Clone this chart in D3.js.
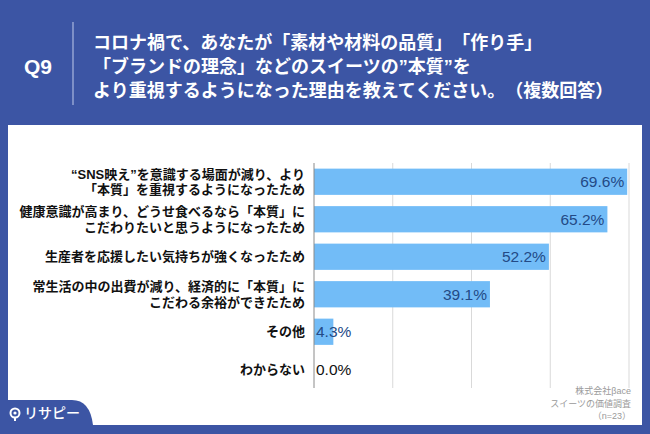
<!DOCTYPE html>
<html><head><meta charset="utf-8">
<script src="https://cdn.jsdelivr.net/npm/d3@7"></script>
<style>html,body{margin:0;padding:0;background:#3b55a5;}svg{display:block;}svg text{text-spacing-trim:space-all;}</style>
</head><body>
<svg id="c" width="650" height="434"></svg>
<script>
const categories = [
  ["“SNS映え”を意識する場面が減り、より", "「本質」を重視するようになったため"],
  ["健康意識が高まり、どうせ食べるなら「本質」に", "こだわりたいと思うようになったため"],
  ["生産者を応援したい気持ちが強くなったため"],
  ["常生活の中の出費が減り、経済的に「本質」に", "こだわる余裕ができたため"],
  ["その他"],
  ["わからない"]
];
const values = [69.6, 65.2, 52.2, 39.1, 4.3, 0.0];
const gridTicks = [17.5, 35, 52.5, 70];
const titleLines = [
  "コロナ禍で、あなたが「素材や材料の品質」「作り手」",
  "「ブランドの理念」などのスイーツの”本質”を",
  "より重視するようになった理由を教えてください。（複数回答）"
];
const sourceLines = ["株式会社βace", "スイーツの価値調査", "（n=23）"];

const JP = "'Liberation Sans','Noto Sans CJK JP',sans-serif";
const LAT = "'Liberation Sans','DejaVu Sans',sans-serif";
const svg = d3.select("#c");
const BLUE = "#3c55a4";

svg.append("rect").attr("width",650).attr("height",434).attr("fill",BLUE);
svg.append("rect").attr("x",8).attr("y",125).attr("width",634).attr("height",300).attr("fill","#fff");

// header
svg.append("text").attr("x",38).attr("y",74).attr("text-anchor","middle")
  .attr("fill","#fff").attr("font-family",LAT).attr("font-weight","bold").attr("font-size",21).text("Q9");
svg.append("line").attr("x1",73).attr("x2",73).attr("y1",22).attr("y2",105)
  .attr("stroke","#aab8e0").attr("stroke-width",1.2);
svg.append("g").selectAll("text").data(titleLines).join("text")
  .attr("x",93).attr("y",(d,i)=>48.5+i*24)
  .attr("fill","#fff").attr("font-family",JP).attr("font-weight","bold").attr("font-size",18)
  .text(d=>d);

// chart
const x = d3.scaleLinear().domain([0,70]).range([314,629]);
const y = d3.scaleBand().domain(d3.range(values.length)).range([163,388]).paddingInner(0.3).paddingOuter(0.15);

svg.append("g").selectAll("line").data(gridTicks).join("line")
  .attr("x1",d=>x(d)).attr("x2",d=>x(d)).attr("y1",163).attr("y2",388)
  .attr("stroke","#d9d9d9").attr("stroke-width",1);

svg.append("g").selectAll("rect").data(values).join("rect")
  .attr("x",x(0)).attr("y",(d,i)=>y(i)).attr("width",d=>x(d)-x(0)).attr("height",y.bandwidth())
  .attr("fill","#72bcf7");

svg.append("line").attr("x1",x(0)).attr("x2",x(0)).attr("y1",163).attr("y2",388)
  .attr("stroke","#8a8a8a").attr("stroke-width",1);

svg.append("g").selectAll("text").data(values).join("text")
  .attr("x",d=>d>=10? x(d)-3 : x(0)+2)
  .attr("text-anchor",d=>d>=10?"end":"start")
  .attr("y",(d,i)=>y(i)+y.bandwidth()/2+5.5)
  .attr("fill",d=>d===0?"#111":"#234a86")
  .attr("font-family",LAT).attr("font-size",15.5)
  .text(d=>d.toFixed(1)+"%");

const lab = svg.append("g");
categories.forEach((lines,i)=>{
  const cy = y(i)+y.bandwidth()/2;
  const n = lines.length;
  const t = lab.append("text").attr("text-anchor","end")
      .attr("fill","#111").attr("font-family",JP).attr("font-weight","bold").attr("font-size",13);
  lines.forEach((s,j)=>{
    t.append("tspan").attr("x",305).attr("y",cy + (j-(n-1)/2)*15.5 + 4.5).text(s);
  });
});

// source
svg.append("g").selectAll("text").data(sourceLines).join("text")
  .attr("x",631).attr("y",(d,i)=>394+i*12.5).attr("text-anchor","end")
  .attr("fill","#9a9a9a").attr("font-family",JP).attr("font-size",9).text(d=>d);

// logo tab
svg.append("path").attr("d","M0,400 L72,400 Q90,400 93,425 L0,425 Z").attr("fill",BLUE);
svg.append("circle").attr("cx",15).attr("cy",413).attr("r",4.5).attr("fill","none").attr("stroke","#fff").attr("stroke-width",2);
svg.append("circle").attr("cx",15).attr("cy",413).attr("r",1.6).attr("fill","#fff");
svg.append("line").attr("x1",15).attr("x2",15).attr("y1",417.5).attr("y2",421).attr("stroke","#fff").attr("stroke-width",2);
svg.append("text").attr("x",24).attr("y",418).attr("fill","#fff").attr("font-family","'Noto Sans CJK JP',sans-serif").attr("font-weight","500").attr("font-size",14).text("リサピー");
</script>
</body></html>
